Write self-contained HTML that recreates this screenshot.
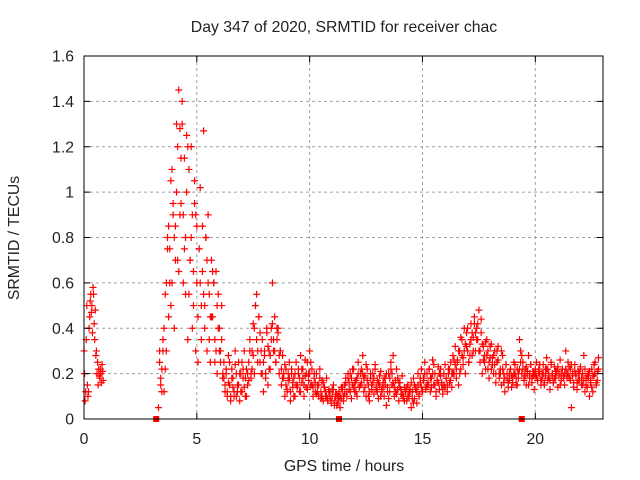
<!DOCTYPE html>
<html><head><meta charset="utf-8"><style>
body{margin:0;background:#fff}
svg{display:block;font-family:"Liberation Sans",sans-serif}
</style></head><body>
<svg id="chart" width="640" height="480" viewBox="0 0 640 480">
<rect width="640" height="480" fill="#fff"/>
<text x="344" y="32" font-size="15.8" text-anchor="middle" fill="#222">Day 347 of 2020, SRMTID for receiver chac</text>
<text transform="translate(19,238) rotate(-90)" font-size="15.8" text-anchor="middle" fill="#222">SRMTID / TECUs</text>
<text x="344" y="471" font-size="15.8" text-anchor="middle" fill="#222">GPS time / hours</text>
<g id="grid"></g><g id="marks"></g><g id="axes"></g>
</svg>
<script>
const xTicks=[0,5,10,15,20];
const yTicks=[0,0.2,0.4,0.6,0.8,1,1.2,1.4,1.6];
const yTickLabels=["0","0.2","0.4","0.6","0.8","1","1.2","1.4","1.6"];
const segAStart=0.0, segAStep=0.05;
const segAValues=[0.3,0.08,0.35,0.15,0.12,0.45,0.55,0.5,0.58,0.42,0.48,0.3,0.25,0.22,0.18,0.2,0.24,0.17];
const segA2Start=0.025, segA2Step=0.05;
const segA2Values=[0.2,0.12,0.5,0.1,0.4,0.52,0.47,0.38,0.55,0.35,0.28,0.2,0.15,0.19,0.22,0.16,0.21];
const segBStart=3.3, segBStep=0.05;
const segBValues=[
0.05,0.3,0.15,0.22,0.35,0.12,0.55,0.3,0.8,0.45,0.75,1.05,0.6,0.9,0.4,0.85,1.0,0.7,1.45,1.28,
0.95,1.4,0.6,1.15,0.8,1.25,0.35,1.1,0.7,1.2,0.9,0.5,1.05,0.3,0.85,0.25,0.75,1.02,0.5,0.65,
1.27,0.4,0.8,0.3,0.9,0.55,0.25,0.7,0.45,0.6,0.35,0.65,0.2,0.55,0.4,0.3,0.5,0.18,0.25,0.12,
0.2,0.1,0.28,0.15,0.08,0.22,0.18,0.12,0.3,0.1,0.15,0.25,0.08,0.2,0.12,0.18,0.3,0.1,0.22,0.15,
0.25,0.35,0.18,0.3,0.42,0.2,0.5,0.55,0.3,0.45,0.25,0.2,0.35,0.12,0.28,0.18,0.4,0.15,0.3,0.22,
0.35,0.6,0.3,0.45,0.25,0.4,0.38,0.2,0.3,0.15,0.28,0.18,0.1,0.22,0.12,0.17,0.25,0.08,0.2,0.14,
0.18,0.1,0.25,0.15,0.2,0.12,0.28,0.16,0.22,0.1,0.19,0.14,0.25,0.2,0.3,0.15,0.22,0.1,0.18,0.12,
0.2,0.15,0.1,0.22,0.12,0.17,0.08,0.14,0.1,0.18,0.09,0.13,0.12,0.07,0.1,0.15,0.08,0.11,0.06,0.1,
0.12,0.05,0.09,0.14,0.08,0.11,0.16,0.1,0.18,0.13,0.2,0.09,0.15,0.22,0.12,0.17,0.1,0.25,0.14,0.2,
0.16,0.28,0.12,0.19,0.1,0.22,0.15,0.08,0.18,0.13,0.2,0.11,0.24,0.14,0.17,0.09,0.15,0.21,0.12,0.16,
0.1,0.18,0.06,0.14,0.2,0.12,0.25,0.15,0.28,0.1,0.17,0.22,0.13,0.08,0.16,0.11,0.19,0.09,0.14,0.12,
0.08,0.15,0.1,0.13,0.05,0.12,0.18,0.09,0.14,0.07,0.2,0.11,0.16,0.22,0.12,0.18,0.25,0.14,0.2,0.15,
0.22,0.12,0.18,0.26,0.15,0.2,0.1,0.17,0.23,0.13,0.19,0.15,0.11,0.2,0.14,0.18,0.12,0.22,0.16,0.25,
0.14,0.28,0.2,0.32,0.18,0.25,0.15,0.3,0.22,0.35,0.27,0.4,0.2,0.38,0.3,0.25,0.33,0.42,0.28,0.36,
0.45,0.3,0.4,0.35,0.48,0.25,0.38,0.2,0.32,0.28,0.22,0.35,0.3,0.18,0.27,0.33,0.24,0.2,0.3,0.16,
0.25,0.32,0.18,0.22,0.15,0.28,0.2,0.12,0.24,0.18,0.16,0.2,0.22,0.14,0.18,0.25,0.2,0.15,0.22,0.18,
0.35,0.3,0.2,0.25,0.17,0.22,0.15,0.2,0.28,0.18,0.24,0.16,0.21,0.13,0.19,0.25,0.17,0.22,0.2,0.15,
0.18,0.24,0.15,0.22,0.27,0.17,0.2,0.13,0.25,0.19,0.16,0.23,0.18,0.21,0.14,0.2,0.26,0.17,0.22,0.19,
0.15,0.3,0.2,0.25,0.18,0.22,0.05,0.2,0.16,0.24,0.19,0.13,0.21,0.17,0.23,0.15,0.2,0.28,0.12,0.18,
0.14,0.2,0.1,0.17,0.22,0.12,0.19,0.25,0.15,0.21,0.27];
const segCStart=3.35, segCStep=0.1;
const segCValues=[
0.25,0.12,0.4,0.6,0.85,0.5,0.95,0.7,1.2,0.9,
1.3,0.75,1.0,0.55,0.8,0.65,0.9,0.45,0.6,0.85,
0.5,0.7,0.35,0.45,0.6,0.3,0.4,0.25,0.2,0.15,
0.12,0.25,0.18,0.1,0.2,0.15,0.12,0.22,0.18,0.2,
0.3,0.22,0.4,0.35,0.45,0.3,0.25,0.2,0.32,0.28,
0.42,0.3,0.35,0.28,0.22,0.2,0.15,0.2,0.12,0.16,
0.2,0.14,0.18,0.22,0.15,0.2,0.17,0.25,0.14,0.16,
0.12,0.18,0.1,0.14,0.1,0.12,0.08,0.13,0.1,0.07,
0.1,0.13,0.15,0.12,0.16,0.18,0.14,0.12,0.2,0.15,
0.2,0.14,0.17,0.12,0.15,0.18,0.13,0.16,0.1,0.14,
0.15,0.12,0.18,0.2,0.14,0.11,0.16,0.13,0.1,0.12,
0.1,0.12,0.09,0.15,0.12,0.1,0.14,0.17,0.13,0.16,
0.18,0.2,0.15,0.17,0.2,0.16,0.15,0.18,0.2,0.17,
0.2,0.24,0.26,0.2,0.28,0.3,0.32,0.25,0.35,0.3,
0.38,0.42,0.3,0.33,0.25,0.28,0.25,0.22,0.28,0.2,
0.26,0.2,0.22,0.18,0.2,0.17,0.19,0.2,0.18,0.2,
0.25,0.22,0.19,0.21,0.2,0.18,0.2,0.19,0.21,0.17,
0.2,0.19,0.22,0.17,0.2,0.18,0.21,0.19,0.2,0.18,
0.22,0.2,0.17,0.19,0.21,0.16,0.2,0.18,0.17,0.15,
0.18,0.16,0.19,0.2,0.17];
const segDStart=3.4, segDStep=0.1;
const segDValues=[
0.18,0.3,0.22,0.75,0.6,1.1,0.8,1.3,0.65,1.15,
0.9,0.55,1.2,0.7,0.4,0.95,0.6,0.75,0.35,0.55,
0.8,0.6,0.45,0.65,0.25,0.5,0.3,0.35,0.18,0.22,
0.16,0.1,0.14,0.24,0.12,0.2,0.25,0.14,0.1,0.17,
0.2,0.28,0.5,0.25,0.38,0.2,0.3,0.38,0.22,0.4,
0.35,0.25,0.4,0.3,0.18,0.24,0.13,0.18,0.22,0.1,
0.15,0.22,0.12,0.18,0.26,0.13,0.2,0.15,0.2,0.11,
0.15,0.09,0.16,0.12,0.08,0.1,0.13,0.06,0.11,0.09,
0.14,0.1,0.18,0.2,0.12,0.22,0.16,0.18,0.14,0.22,
0.18,0.24,0.1,0.2,0.16,0.22,0.12,0.19,0.13,0.18,
0.2,0.09,0.22,0.16,0.12,0.18,0.14,0.11,0.08,0.14,
0.12,0.16,0.07,0.13,0.15,0.18,0.12,0.2,0.15,0.22,
0.14,0.24,0.12,0.16,0.22,0.13,0.24,0.15,0.22,0.2,
0.26,0.22,0.3,0.36,0.24,0.33,0.4,0.28,0.38,0.42,
0.35,0.3,0.44,0.26,0.34,0.22,0.32,0.27,0.24,0.3,
0.2,0.3,0.16,0.24,0.14,0.22,0.16,0.24,0.15,0.22,
0.28,0.18,0.23,0.15,0.24,0.19,0.22,0.17,0.24,0.2,
0.16,0.22,0.18,0.24,0.16,0.21,0.23,0.15,0.22,0.2,
0.18,0.23,0.24,0.14,0.2,0.17,0.22,0.15,0.22,0.19,
0.21,0.14,0.24,0.16,0.22];
const gapHours=[3.2,11.3,19.4];

const L=84,R=603,T=56,B=419,XMAX=23,YMAX=1.6;
const xs=h=>L+(R-L)*h/XMAX;
const ys=v=>B-(B-T)*v/YMAX;
const NS="http://www.w3.org/2000/svg";
function mk(tag,attrs,parent){const e=document.createElementNS(NS,tag);for(const k in attrs)e.setAttribute(k,attrs[k]);parent.appendChild(e);return e;}
const grid=document.getElementById('grid'),marks=document.getElementById('marks'),axes=document.getElementById('axes');

yTicks.forEach((v,i)=>{
  const y=ys(v);
  if(v>0&&v<YMAX){const g=mk('line',{x1:L,x2:R,y1:y,y2:y,stroke:'#a0a0a0','stroke-dasharray':'3,3','stroke-width':1},grid);
  
  }
  mk('line',{x1:L,x2:L+6,y1:y,y2:y,stroke:'#000'},axes);
  mk('line',{x1:R,x2:R-6,y1:y,y2:y,stroke:'#000'},axes);
  const t=mk('text',{x:L-10,y:y+5.5,'font-size':15.8,'text-anchor':'end',fill:'#222'},axes);
  t.textContent=yTickLabels[i];
  
  
});
xTicks.forEach(h=>{
  const x=xs(h);
  if(h>0){const g=mk('line',{x1:x,x2:x,y1:T,y2:B,stroke:'#a0a0a0','stroke-dasharray':'3,3','stroke-width':1},grid);
  
  }
  mk('line',{x1:x,x2:x,y1:B,y2:B-6,stroke:'#000'},axes);
  mk('line',{x1:x,x2:x,y1:T,y2:T+6,stroke:'#000'},axes);
  const t=mk('text',{x:x,y:B+25,'font-size':15.8,'text-anchor':'middle',fill:'#222'},axes);
  t.textContent=String(h);
  
  
});
const frame=mk('rect',{x:L,y:T,width:R-L,height:B-T,fill:'none',stroke:'#000','stroke-width':1},axes);



function plus(h,v){
  const x=xs(h),y=ys(v);
  const p=mk('path',{d:`M${x-3.5},${y}H${x+3.5}M${x},${y-3.5}V${y+3.5}`,stroke:'#f00','stroke-width':1.2,fill:'none'},marks);
  
  
}
segAValues.forEach((v,i)=>plus(segAStart+i*segAStep,v));
segA2Values.forEach((v,i)=>plus(segA2Start+i*segA2Step,v));
segBValues.forEach((v,i)=>plus(segBStart+i*segBStep,v));
segCValues.forEach((v,i)=>plus(segCStart+i*segCStep,v));
segDValues.forEach((v,i)=>plus(segDStart+i*segDStep,v));
gapHours.forEach(h=>{
  const s=mk('rect',{x:xs(h)-3,y:B-3,width:6,height:6,fill:'#f00'},marks);
  
  
});
</script>
</body></html>
